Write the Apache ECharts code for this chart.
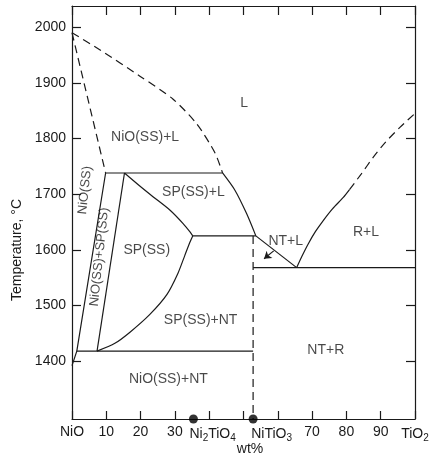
<!DOCTYPE html>
<html>
<head>
<meta charset="utf-8">
<script src="https://cdn.jsdelivr.net/npm/echarts@6/dist/echarts.min.js"></script>
<style>html,body{margin:0;padding:0;background:#fff}#c{width:432px;height:467px}</style>
</head>
<body>
<div id="c"></div>
<script>
// ---- data (wt% TiO2, temperature °C) ----
var liquidusNiO = [[0,1990],[8.2,1959],[19.8,1912],[29.4,1871],[36.4,1826],[41.7,1774],[43.9,1738]];
var solidusNiO = [[0,1990],[9.8,1738]];
var peritectic1738 = [[9.8,1738],[43.9,1738]];
var solvusNiO = [[9.8,1738],[1.4,1418],[0,1392]];
var spLeft = [[15.3,1738],[7.3,1418]];
var spLiquidus = [[15.3,1738],[19.5,1716],[23.7,1695],[28.6,1671],[32.4,1647],[34.4,1632],[35.2,1625]];
var spRight = [[35.2,1625],[34.4,1614],[32.9,1590],[30.9,1558],[27.7,1520],[22.7,1484],[16.9,1452],[12.5,1432],[7.3,1418]];
var line1625 = [[35.2,1625],[53.6,1625]];
var ntLiquidusCurve = [[43.9,1738],[47.5,1707],[50.9,1665],[53.6,1625]];
var ntLiquidusLine = [[53.6,1625],[65.5,1568]];
var ntVertical = [[52.8,1625],[52.8,1296]];
var line1418 = [[1.4,1418],[52.8,1418]];
var eutectic1568 = [[52.8,1568],[100,1568]];
var rLiquidusSolid = [[65.5,1568],[67,1588],[68.9,1611],[71,1633],[73.3,1653],[76,1674],[79.1,1694],[80.9,1708]];
var rLiquidusDashed = [[80.9,1708],[84.3,1736],[87.8,1766],[91.5,1794],[95.6,1820],[100,1845]];
var arrow = [[58.8,1598],[56,1584]];
var compoundDots = [[35.4,1296],[52.8,1296]];

var regionLabels = [
  ['L',[50.2,1863]],
  ['NiO(SS)+L',[21.3,1803]],
  ['SP(SS)+L',[35.4,1703]],
  ['SP(SS)',[21.8,1600]],
  ['SP(SS)+NT',[37.5,1474]],
  ['NiO(SS)+NT',[28.1,1368]],
  ['NT+L',[62.3,1616]],
  ['R+L',[85.7,1632]],
  ['NT+R',[74,1419]]
];
var rotatedLabels = [
  ['NiO(SS)',[3.8,1707]],
  ['NiO(SS)+SP(SS)',[8.0,1587]]
];

var xTicks = [0,10,20,30,40,50,60,70,80,90,100];
var xLabelValues = [0,10,20,30,41,58.2,70,80,90,100];
var xLabelText = {0:'NiO',41:'{n|Ni}{s|2}{n|TiO}{s|4}',58.2:'{n|NiTiO}{s|3}',100:'{n|TiO}{s|2}'};
var yTicks = [1400,1500,1600,1700,1800,1900,2000];

var FONT = 'Liberation Sans, Arial, sans-serif';
var INK = '#1a1a1a';

function seg(data, dashed){
  return {type:'line', data:data, symbol:'none', smooth:false, silent:true, clip:false,
    lineStyle:{color:INK, width:1.2, type: dashed ? [8,5] : 'solid'}, z:3};
}
function smoothSeg(data, dashed){
  var s = seg(data, dashed); s.smooth = 0.25; return s;
}

var series = [
  smoothSeg(liquidusNiO, true),
  seg(solidusNiO, true),
  seg(peritectic1738, false),
  seg(solvusNiO, false),
  seg(spLeft, false),
  smoothSeg(spLiquidus, false),
  smoothSeg(spRight, false),
  seg(line1625, false),
  smoothSeg(ntLiquidusCurve, false),
  seg(ntLiquidusLine, false),
  seg(ntVertical, true),
  seg(line1418, false),
  seg(eutectic1568, false),
  smoothSeg(rLiquidusSolid, false),
  smoothSeg(rLiquidusDashed, true),
  {type:'lines', coordinateSystem:'cartesian2d', silent:true, z:4,
    symbol:['none','arrow'], symbolSize:[1,7],
    lineStyle:{color:INK, width:1.2, opacity:1, curveness:0},
    data:[{coords: arrow}]},
  {type:'scatter', data: compoundDots, symbol:'circle', symbolSize:9, clip:false, silent:true, z:5,
    itemStyle:{color:'#000'}},
  {type:'scatter', symbolSize:0, silent:true, z:6,
    data: regionLabels.map(function(d){return {name:d[0], value:d[1]};}),
    label:{show:true, position:'inside', formatter:'{b}', color:INK, fontSize:14, fontFamily:FONT}},
  {type:'scatter', symbolSize:0, silent:true, z:6,
    data: rotatedLabels.map(function(d){return {name:d[0], value:d[1]};}),
    label:{show:true, position:'inside', formatter:'{b}', rotate:84, color:INK, fontSize:13, fontFamily:FONT}}
];

var axisLine = {show:true, onZero:false, lineStyle:{color:INK, width:1.2}};
var tickStyle = {color:INK, width:1.2};

var option = {
  animation:false,
  backgroundColor:'#fff',
  grid:{left:72, right:17, top:6, bottom:48, containLabel:false, outerBoundsMode:'none'},
  xAxis:[
    {type:'value', min:0, max:100, position:'bottom', axisLine:axisLine, splitLine:{show:false},
      axisTick:{show:true, inside:true, length:8, lineStyle:tickStyle, customValues:xTicks},
      axisLabel:{show:true, margin:6, color:INK, fontSize:14, fontFamily:FONT, customValues:xLabelValues,
        formatter:function(v){ return xLabelText[v] !== undefined ? xLabelText[v] : String(v); },
        rich:{n:{fontSize:14, fontFamily:FONT, color:INK}, s:{fontSize:10, fontFamily:FONT, color:INK, padding:[8,0,0,0]}}}},
    {type:'value', min:0, max:100, position:'top', axisLine:axisLine, splitLine:{show:false},
      axisTick:{show:true, inside:true, length:9, lineStyle:tickStyle, customValues:xTicks},
      axisLabel:{show:false}}
  ],
  yAxis:[
    {type:'value', min:1296, max:2038, position:'left', axisLine:axisLine, splitLine:{show:false},
      axisTick:{show:true, inside:true, length:9, lineStyle:tickStyle, customValues:yTicks},
      axisLabel:{show:true, margin:6, color:INK, fontSize:14, fontFamily:FONT, customValues:yTicks,
        formatter:function(v){ return String(v); }}},
    {type:'value', min:1296, max:2038, position:'right', axisLine:axisLine, splitLine:{show:false},
      axisTick:{show:true, inside:true, length:9, lineStyle:tickStyle, customValues:yTicks},
      axisLabel:{show:false}}
  ],
  graphic:[
    {type:'text', x:17, y:250, rotation:Math.PI/2, style:{text:'Temperature, °C', fill:INK, font:'14px '+FONT, textAlign:'center', textVerticalAlign:'middle'}},
    {type:'text', x:250, y:449, style:{text:'wt%', fill:INK, font:'14px '+FONT, textAlign:'center', textVerticalAlign:'middle'}}
  ],
  series: series
};

var chart = echarts.init(document.getElementById('c'), null, {renderer:'canvas'});
chart.setOption(option);
</script>
</body>
</html>
